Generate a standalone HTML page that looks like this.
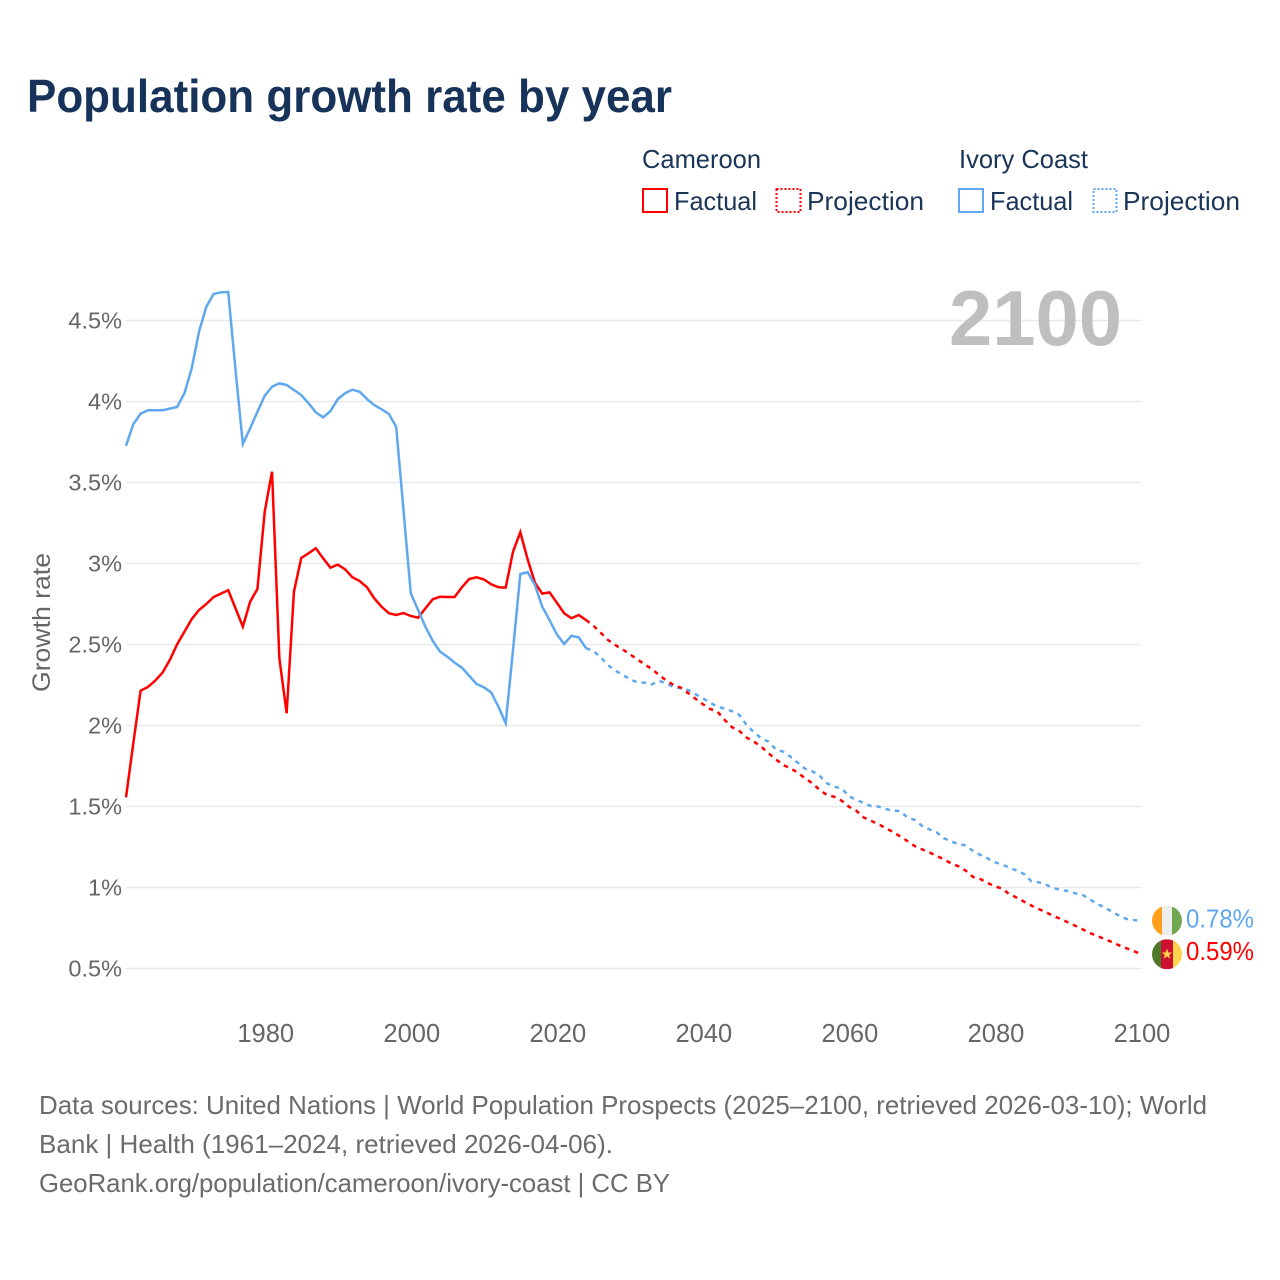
<!DOCTYPE html>
<html lang="en">
<head>
<meta charset="utf-8">
<title>Population growth rate by year</title>
<style>
html,body{margin:0;padding:0;background:#fff;width:1280px;height:1280px;overflow:hidden}
svg{display:block}
text{font-family:"Liberation Sans",sans-serif}
.leg{font-size:26px;fill:#1b3558}
.foot{font-size:26px;fill:#6b6b6b}
.tick{fill:#666}
</style>
</head>
<body>
<svg id="chart" width="1280" height="1280" viewBox="0 0 1280 1280" xmlns="http://www.w3.org/2000/svg">
<rect x="0" y="0" width="1280" height="1280" fill="#fff"/>
<text x="27" y="112" font-size="46" font-weight="700" fill="#17335a" textLength="645" lengthAdjust="spacingAndGlyphs">Population growth rate by year</text>

<g>
<text class="leg" x="642" y="168" textLength="119" lengthAdjust="spacingAndGlyphs">Cameroon</text>
<text class="leg" x="959" y="168" textLength="129" lengthAdjust="spacingAndGlyphs">Ivory Coast</text>
<g>
<rect x="643" y="189" width="24" height="23" fill="none" stroke="#ff0000" stroke-width="2"/>
<text class="leg" x="674" y="210" textLength="83" lengthAdjust="spacingAndGlyphs">Factual</text>
</g>
<g>
<rect x="776.5" y="189" width="24" height="23" fill="none" stroke="#ff0000" stroke-width="2" stroke-dasharray="2 2"/>
<text class="leg" x="807" y="210" textLength="117" lengthAdjust="spacingAndGlyphs">Projection</text>
</g>
<g>
<rect x="959" y="189" width="24" height="23" fill="none" stroke="#5fa8ee" stroke-width="2"/>
<text class="leg" x="990" y="210" textLength="83" lengthAdjust="spacingAndGlyphs">Factual</text>
</g>
<g>
<rect x="1093.5" y="189" width="23" height="23" fill="none" stroke="#5fa8ee" stroke-width="2" stroke-dasharray="2 2"/>
<text class="leg" x="1123" y="210" textLength="117" lengthAdjust="spacingAndGlyphs">Projection</text>
</g>
</g>

<g id="grid"></g>
<text x="949" y="345" font-size="78" font-weight="700" fill="#bfbfbf" textLength="173" lengthAdjust="spacingAndGlyphs">2100</text>
<g id="yTicks"></g>
<g id="xTicks"></g>
<text transform="translate(50,622.5) rotate(-90)" text-anchor="middle" font-size="25" fill="#666" textLength="139" lengthAdjust="spacingAndGlyphs">Growth rate</text>
<g id="series"></g>

<g id="flagIvory">
<clipPath id="clipIvory"><circle cx="0" cy="0" r="15"/></clipPath>
<g clip-path="url(#clipIvory)">
<rect x="-15" y="-15" width="10" height="30" fill="#ff9f1c"/>
<rect x="-5" y="-15" width="10" height="30" fill="#eeeeee"/>
<rect x="5" y="-15" width="10" height="30" fill="#6fa84f"/>
</g>
</g>
<g id="flagCameroon">
<clipPath id="clipCameroon"><circle cx="0" cy="0" r="15"/></clipPath>
<g clip-path="url(#clipCameroon)">
<rect x="-15" y="-15" width="9" height="30" fill="#4f7a2c"/>
<rect x="-6" y="-15" width="12" height="30" fill="#ce1030"/>
<rect x="6" y="-15" width="9" height="30" fill="#ffd34d"/>
<polygon points="0,-5.5 1.4,-1.8 5.2,-1.7 2.2,0.7 3.3,4.4 0,2.3 -3.3,4.4 -2.2,0.7 -5.2,-1.7 -1.4,-1.8" fill="#ffd34d"/>
</g>
</g>
<text id="valueIvory" x="1186" font-size="26" fill="#5fa8ee" textLength="68" lengthAdjust="spacingAndGlyphs"></text>
<text id="valueCameroon" x="1186" font-size="26" fill="#ff0000" textLength="68" lengthAdjust="spacingAndGlyphs"></text>

<g>
<text class="foot" x="39" y="1114" textLength="1168" lengthAdjust="spacingAndGlyphs">Data sources: United Nations | World Population Prospects (2025–2100, retrieved 2026-03-10); World</text>
<text class="foot" x="39" y="1153" textLength="574" lengthAdjust="spacingAndGlyphs">Bank | Health (1961–2024, retrieved 2026-04-06).</text>
<text class="foot" x="39" y="1192" textLength="631" lengthAdjust="spacingAndGlyphs">GeoRank.org/population/cameroon/ivory-coast | CC BY</text>
</g>
</svg>
<script>
const factualStartYear = 1961;
const projectionStartYear = 2024;
const yTickValues = [0.5, 1, 1.5, 2, 2.5, 3, 3.5, 4, 4.5];
const yTickLabels = ['0.5%', '1%', '1.5%', '2%', '2.5%', '3%', '3.5%', '4%', '4.5%'];
const xTickValues = [1980, 2000, 2020, 2040, 2060, 2080, 2100];
const xTickLabels = ['1980', '2000', '2020', '2040', '2060', '2080', '2100'];
const endValueLabels = ['0.59%', '0.78%'];

const cameroonFactual = [1.557,1.890,2.215,2.238,2.277,2.326,2.404,2.501,2.579,2.657,
2.713,2.750,2.793,2.814,2.835,2.723,2.610,2.764,2.843,3.320,
3.567,2.415,2.075,2.826,3.034,3.063,3.094,3.032,2.974,2.993,
2.964,2.915,2.892,2.853,2.785,2.733,2.693,2.682,2.694,2.676,
2.665,2.723,2.779,2.795,2.793,2.793,2.853,2.904,2.915,2.902,
2.872,2.853,2.851,3.073,3.193,3.026,2.881,2.814,2.822,2.758,
2.693,2.662,2.682,2.651];

const cameroonProjection = [2.651,2.616,2.573,2.528,2.497,2.470,2.440,2.409,2.378,2.349,
2.312,2.277,2.250,2.233,2.199,2.165,2.131,2.102,2.085,2.034,
1.989,1.966,1.925,1.900,1.869,1.828,1.791,1.756,1.736,1.709,
1.674,1.643,1.602,1.571,1.560,1.536,1.499,1.474,1.433,1.412,
1.392,1.367,1.344,1.316,1.287,1.256,1.236,1.217,1.196,1.174,
1.149,1.131,1.104,1.065,1.052,1.028,1.007,0.993,0.958,0.937,
0.912,0.888,0.867,0.847,0.824,0.806,0.785,0.764,0.742,0.719,
0.701,0.682,0.664,0.643,0.625,0.608,0.588];

const ivoryFactual = [3.727,3.859,3.925,3.946,3.946,3.946,3.956,3.966,4.051,4.205,
4.431,4.585,4.664,4.674,4.676,4.194,3.738,3.835,3.937,4.036,
4.091,4.112,4.102,4.071,4.040,3.989,3.933,3.902,3.941,4.014,
4.051,4.073,4.060,4.015,3.978,3.952,3.923,3.844,3.330,2.816,
2.713,2.610,2.523,2.456,2.425,2.388,2.357,2.307,2.256,2.236,
2.205,2.116,2.014,2.466,2.935,2.946,2.867,2.733,2.651,2.563,
2.503,2.554,2.544,2.477];

const ivoryProjection = [2.477,2.460,2.421,2.373,2.338,2.314,2.285,2.267,2.264,2.254,
2.275,2.260,2.236,2.230,2.219,2.193,2.168,2.141,2.116,2.104,
2.088,2.065,2.003,1.958,1.921,1.900,1.853,1.838,1.807,1.770,
1.733,1.717,1.690,1.643,1.622,1.612,1.565,1.540,1.523,1.503,
1.500,1.485,1.474,1.472,1.433,1.417,1.381,1.359,1.341,1.304,
1.285,1.267,1.260,1.225,1.201,1.180,1.156,1.141,1.122,1.104,
1.083,1.038,1.032,1.017,0.997,0.985,0.978,0.964,0.954,0.927,
0.898,0.878,0.851,0.826,0.806,0.799,0.795];

const SVG_NS = 'http://www.w3.org/2000/svg';
const xScale = function (year) { return 126 + (year - 1961) * (1015 / 139); };
const yScale = function (value) { return 968.5 - (value - 0.5) * 162; };

const gridGroup = document.getElementById('grid');
const yTickGroup = document.getElementById('yTicks');
const xTickGroup = document.getElementById('xTicks');
const seriesGroup = document.getElementById('series');

yTickValues.forEach(function (value, i) {
  const line = document.createElementNS(SVG_NS, 'line');
  
  
  line.setAttribute('x1', 126);
  line.setAttribute('x2', 1141);
  line.setAttribute('y1', yScale(value));
  line.setAttribute('y2', yScale(value));
  line.setAttribute('stroke', '#e9e9e9');
  line.setAttribute('stroke-width', '1.5');
  gridGroup.appendChild(line);

  const label = document.createElementNS(SVG_NS, 'text');
  
  
  label.setAttribute('class', 'tick');
  label.setAttribute('x', 122);
  label.setAttribute('y', yScale(value) + 8);
  label.setAttribute('text-anchor', 'end');
  label.setAttribute('font-size', '23.5');
  label.textContent = yTickLabels[i];
  yTickGroup.appendChild(label);
});

xTickValues.forEach(function (year, i) {
  const label = document.createElementNS(SVG_NS, 'text');
  
  
  label.setAttribute('class', 'tick');
  label.setAttribute('x', xScale(year) + 1);
  label.setAttribute('y', 1042);
  label.setAttribute('text-anchor', 'middle');
  label.setAttribute('font-size', '25.5');
  label.textContent = xTickLabels[i];
  xTickGroup.appendChild(label);
});

function pathFor(values, startYear) {
  return values.map(function (value, i) {
    return xScale(startYear + i).toFixed(2) + ',' + yScale(value).toFixed(2);
  }).join(' ');
}

const ivoryProjectionLine = document.createElementNS(SVG_NS, 'polyline');


ivoryProjectionLine.setAttribute('points', pathFor(ivoryProjection, projectionStartYear));
ivoryProjectionLine.setAttribute('fill', 'none');
ivoryProjectionLine.setAttribute('stroke', '#5fa8ee');
ivoryProjectionLine.setAttribute('stroke-width', '2.5');
ivoryProjectionLine.setAttribute('stroke-dasharray', '4.5 5');
seriesGroup.appendChild(ivoryProjectionLine);

const cameroonProjectionLine = document.createElementNS(SVG_NS, 'polyline');


cameroonProjectionLine.setAttribute('points', pathFor(cameroonProjection, projectionStartYear));
cameroonProjectionLine.setAttribute('fill', 'none');
cameroonProjectionLine.setAttribute('stroke', '#ff0000');
cameroonProjectionLine.setAttribute('stroke-width', '2.5');
cameroonProjectionLine.setAttribute('stroke-dasharray', '4.5 5');
seriesGroup.appendChild(cameroonProjectionLine);

const cameroonFactualLine = document.createElementNS(SVG_NS, 'polyline');


cameroonFactualLine.setAttribute('points', pathFor(cameroonFactual, factualStartYear));
cameroonFactualLine.setAttribute('fill', 'none');
cameroonFactualLine.setAttribute('stroke', '#ff0000');
cameroonFactualLine.setAttribute('stroke-width', '2.5');
seriesGroup.appendChild(cameroonFactualLine);

const ivoryFactualLine = document.createElementNS(SVG_NS, 'polyline');


ivoryFactualLine.setAttribute('points', pathFor(ivoryFactual, factualStartYear));
ivoryFactualLine.setAttribute('fill', 'none');
ivoryFactualLine.setAttribute('stroke', '#5fa8ee');
ivoryFactualLine.setAttribute('stroke-width', '2.5');
seriesGroup.appendChild(ivoryFactualLine);

const cameroonEndY = yScale(cameroonProjection[cameroonProjection.length - 1]);
const ivoryEndY = yScale(ivoryProjection[ivoryProjection.length - 1]);
document.getElementById('flagCameroon').setAttribute('transform', 'translate(1167,' + cameroonEndY + ')');
document.getElementById('flagIvory').setAttribute('transform', 'translate(1167,' + ivoryEndY + ')');
const valueCameroon = document.getElementById('valueCameroon');
valueCameroon.setAttribute('y', cameroonEndY + 6);
valueCameroon.textContent = endValueLabels[0];
const valueIvory = document.getElementById('valueIvory');
valueIvory.setAttribute('y', ivoryEndY + 7);
valueIvory.textContent = endValueLabels[1];
</script>
</body>
</html>
